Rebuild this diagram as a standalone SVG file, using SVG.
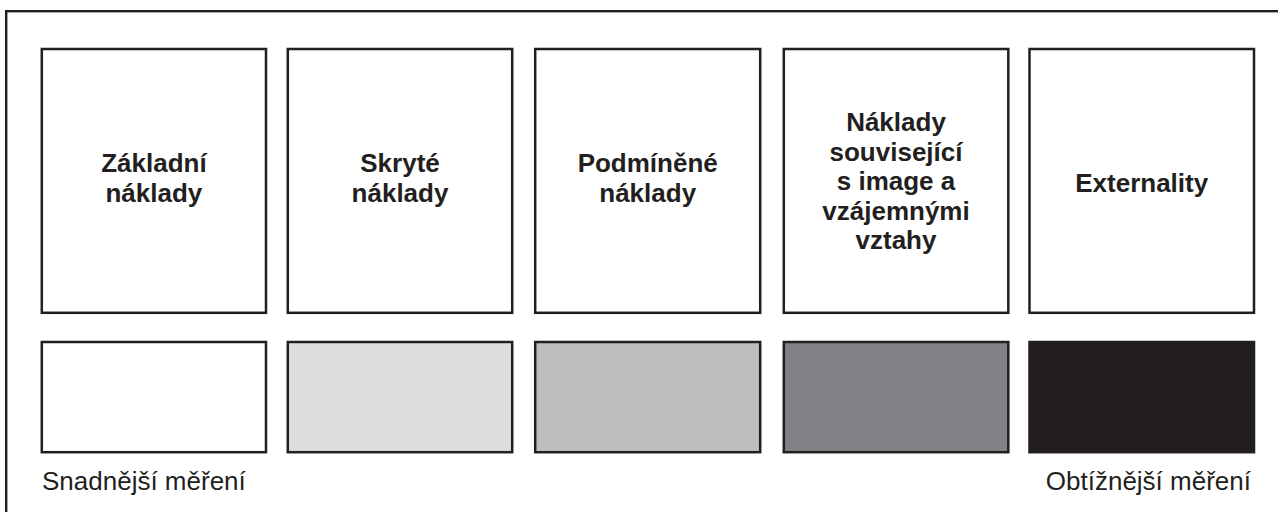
<svg xmlns="http://www.w3.org/2000/svg" width="1278" height="512" viewBox="0 0 1278 512">
<style>
.frame{fill:none;stroke:#231f20;stroke-width:2.4}
.box{fill:#fff;stroke:#231f20;stroke-width:2.5}
.lbl{font-family:"Liberation Sans",Arial,sans-serif;font-weight:bold;font-size:26px;fill:#231f20;text-anchor:middle}
.cap{font-family:"Liberation Sans",Arial,sans-serif;font-size:26px;fill:#231f20}
</style>
<rect width="1278" height="512" fill="#fff"/>
<rect class="frame" x="6.2" y="11.2" width="1300" height="600"/>
<g id="n1">
<rect class="box" x="41.8" y="49" width="224.2" height="263.8"/>
<text class="lbl"><tspan x="153.9" y="172">Základní</tspan><tspan x="153.9" y="201.5">náklady</tspan></text>
</g>
<g id="n2">
<rect class="box" x="287.8" y="49" width="224.4" height="263.8"/>
<text class="lbl"><tspan x="400" y="172">Skryté</tspan><tspan x="400" y="201.5">náklady</tspan></text>
</g>
<g id="n3">
<rect class="box" x="535.2" y="49" width="225" height="263.8"/>
<text class="lbl"><tspan x="647.7" y="172">Podmíněné</tspan><tspan x="647.7" y="201.5">náklady</tspan></text>
</g>
<g id="n4">
<rect class="box" x="783.8" y="49" width="224.5" height="263.8"/>
<text class="lbl"><tspan x="896" y="131">Náklady</tspan><tspan x="896" y="160.5">související</tspan><tspan x="896" y="190">s image a</tspan><tspan x="896" y="219.5">vzájemnými</tspan><tspan x="896" y="249">vztahy</tspan></text>
</g>
<g id="n5">
<rect class="box" x="1029.5" y="49" width="224.5" height="263.8"/>
<text class="lbl" x="1141.7" y="192">Externality</text>
</g>
<g id="scale">
<rect class="box" x="41.8" y="342" width="224.2" height="110.2"/>
<rect class="box" x="287.8" y="342" width="224.4" height="110.2" style="fill:#dcdddf"/>
<rect class="box" x="535.2" y="342" width="225" height="110.2" style="fill:#bcbec0"/>
<rect class="box" x="783.8" y="342" width="224.5" height="110.2" style="fill:#808285"/>
<rect class="box" x="1029.5" y="342" width="224.5" height="110.2" style="fill:#231f20"/>
</g>
<g id="connectors"/>
<text class="cap" x="42" y="490">Snadnější měření</text>
<text class="cap" x="1251" y="490" text-anchor="end">Obtížnější měření</text>
</svg>
